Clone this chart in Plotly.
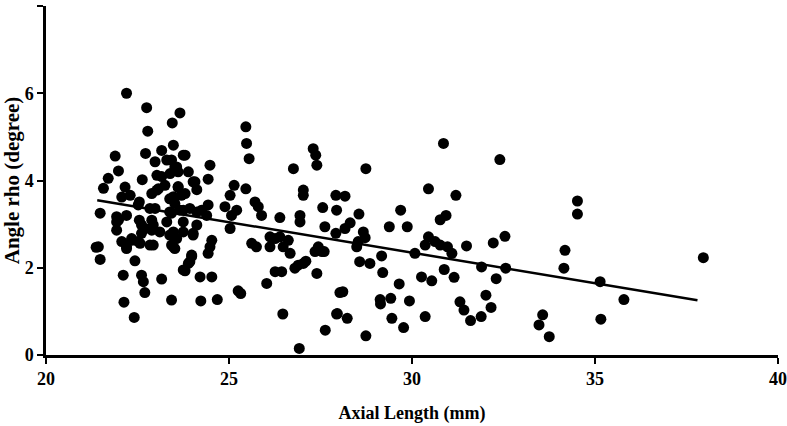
import plotly.graph_objects as go

# axial length (mm) and angle rho (degree)
axial_length = [
    21.37, 21.48, 21.48, 21.57, 21.70, 21.89, 21.98, 22.20, 22.75, 23.66, 23.45, 22.78, 22.72, 22.63, 22.16, 22.07,
    22.30, 21.93, 22.20, 22.52, 22.89, 22.98, 23.16, 23.48, 22.84, 23.07, 23.43, 23.61, 23.16, 23.52, 23.66,
    21.93, 21.93, 22.07, 22.20, 22.34, 22.61, 22.89, 22.61, 22.84, 22.52, 22.43, 22.11, 22.61, 22.66, 23.16,
    22.70, 22.13, 23.43, 22.41, 23.48, 23.52, 23.75, 23.43,
    23.80, 23.52, 23.89, 24.48, 24.43, 24.02, 24.12, 23.61, 23.80, 24.43, 24.25, 23.93, 24.89, 25.03, 25.14,
    25.21, 25.07, 25.03, 25.46, 25.48, 25.55, 25.46, 25.71, 25.80, 25.89, 25.62, 25.75, 24.02, 23.57, 23.48,
    24.53, 24.48, 23.98, 23.89, 23.80, 24.21, 24.53, 24.23, 24.68, 25.25, 25.32, 26.03, 26.39, 26.12, 26.12,
    26.26, 26.39, 26.48, 26.62, 26.67, 26.26, 26.44, 26.47, 26.76, 27.03, 27.03, 26.94, 26.94, 26.80, 26.89,
    27.03, 27.10, 27.40, 27.44, 27.54, 27.60, 27.35, 27.30, 27.37, 27.40, 27.56, 27.62, 27.92, 27.94, 27.92,
    26.92, 27.63, 27.94, 28.03,
    30.86, 28.74, 32.40, 30.45, 31.20, 28.17, 29.69, 28.55, 30.77, 30.93, 29.38, 29.87, 28.31, 28.17, 28.67,
    28.72, 28.53, 28.49, 30.45, 30.36, 30.63, 30.77, 30.97, 31.09, 31.49, 32.22, 30.08, 29.17, 28.57, 28.85,
    31.90, 32.30, 29.20, 30.26, 30.54, 30.88, 31.15, 29.65, 28.11, 29.13, 29.42, 29.14, 29.93, 31.31, 31.42,
    32.02, 32.16, 27.96, 28.23, 29.45, 30.36, 31.60, 31.89, 29.77, 28.74,
    34.52, 34.52, 32.54, 34.18, 34.15, 32.56, 35.14, 35.79, 33.57, 33.47, 33.75, 35.16, 37.96,
    23.75, 23.30, 23.57, 23.03, 23.39, 24.07, 23.25, 23.61, 23.03, 23.48, 23.70,
    21.98, 22.55, 22.70, 22.89, 22.55, 22.34, 22.57, 22.20, 21.43,
    23.38, 22.98, 23.38, 23.75, 24.12, 24.39, 22.93, 23.30, 23.75, 24.12, 23.11, 23.38, 23.75, 24.02, 23.43,
    22.93, 23.98, 24.43, 23.93,
]
angle_rho = [
    2.47, 2.19, 3.25, 3.82, 4.05, 4.56, 4.22, 6.00, 5.67, 5.55, 5.32, 5.13, 4.62, 4.02, 3.85, 3.62,
    3.66, 3.17, 3.20, 3.44, 3.70, 4.43, 4.69, 4.81, 3.36, 3.81, 4.47, 4.20, 4.09, 3.47, 3.32,
    3.05, 2.86, 2.60, 2.48, 2.67, 2.98, 2.86, 2.79, 2.52, 2.60, 2.16, 1.83, 1.83, 1.68, 1.74,
    1.43, 1.21, 1.26, 0.86, 2.82, 2.44, 1.95, 3.25,
    4.58, 4.31, 4.20, 4.35, 4.03, 3.97, 3.79, 3.84, 3.70, 3.44, 3.32, 3.36, 3.40, 3.66, 3.89,
    3.32, 3.20, 2.90, 5.23, 4.85, 4.50, 3.81, 3.51, 3.40, 3.20, 2.56, 2.48, 2.79, 2.67, 2.48,
    2.63, 2.48, 2.29, 2.10, 1.93, 1.79, 1.79, 1.24, 1.27, 1.47, 1.41, 1.64, 3.15, 2.71, 2.48,
    2.67, 2.71, 2.48, 2.63, 2.33, 1.91, 1.91, 0.94, 4.27, 3.78, 3.66, 3.20, 3.05, 1.99, 2.06,
    2.10, 2.15, 1.87, 2.48, 2.37, 2.37, 2.37, 4.73, 4.58, 4.35, 3.38, 2.94, 3.66, 3.32, 2.79,
    0.15, 0.57, 0.94, 1.43,
    4.85, 4.27, 4.48, 3.81, 3.66, 3.64, 3.32, 3.23, 3.10, 3.20, 2.94, 2.94, 3.03, 2.90, 2.82,
    2.69, 2.60, 2.48, 2.71, 2.52, 2.60, 2.52, 2.48, 2.33, 2.50, 2.57, 2.33, 2.27, 2.14, 2.10,
    2.02, 1.75, 1.89, 1.79, 1.70, 1.96, 1.78, 1.63, 1.45, 1.27, 1.30, 1.17, 1.24, 1.22, 1.03,
    1.37, 1.09, 0.95, 0.84, 0.84, 0.88, 0.79, 0.88, 0.63, 0.44,
    3.53, 3.23, 2.72, 2.40, 1.99, 1.99, 1.68, 1.27, 0.92, 0.69, 0.42, 0.82, 2.23,
    4.58, 4.47, 4.31, 4.12, 4.16, 3.97, 3.89, 3.86, 3.78, 3.63, 3.66,
    3.09, 3.51, 2.90, 3.09, 3.09, 2.63, 2.56, 2.44, 2.48,
    3.58, 3.36, 3.28, 3.32, 3.28, 3.20, 2.98, 3.05, 3.05, 2.98, 2.82, 2.75, 2.82, 2.75, 2.52,
    2.52, 2.26, 2.33, 2.14,
]

# regression line, drawn between these x values
fit_x = [21.4, 37.8]
fit_slope = -0.1398
fit_intercept = 6.54

fit_y = [fit_intercept + fit_slope * v for v in fit_x]

font_family = "Liberation Serif, Times New Roman, serif"

fig = go.Figure()
fig.add_trace(go.Scatter(x=axial_length, y=angle_rho, mode="markers",
                         marker=dict(color="black", size=11, line=dict(width=0))))
fig.add_trace(go.Scatter(x=fit_x, y=fit_y, mode="lines",
                         line=dict(color="black", width=2.5)))

axis_style = dict(showline=True, linecolor="black", linewidth=2.5, showgrid=False, zeroline=False,
                  ticks="outside", ticklen=6, tickwidth=2, tickcolor="black", automargin=False,
                  tickfont=dict(family=font_family, size=18, color="black", weight="bold"))

fig.update_xaxes(range=[20, 40], tickvals=[20, 25, 30, 35, 40],
                 title=dict(text="Axial Length (mm)", standoff=19,
                            font=dict(family=font_family, size=18, color="black", weight="bold")),
                 **axis_style)
fig.update_yaxes(range=[0, 8], tickvals=[0, 2, 4, 6, 8],
                 title=dict(text="Angle rho (degree)", standoff=11,
                            font=dict(family=font_family, size=21, color="black", weight="bold")),
                 **axis_style)

fig.update_layout(width=787, height=426, showlegend=False,
                  plot_bgcolor="white", paper_bgcolor="white",
                  margin=dict(l=46, r=9, t=6, b=71))

# the page body has a default 8px margin, drop it so the figure fills the window
fig.write_html("out.html", config={"displayModeBar": False},
               post_script="document.body.style.margin = '0';")
